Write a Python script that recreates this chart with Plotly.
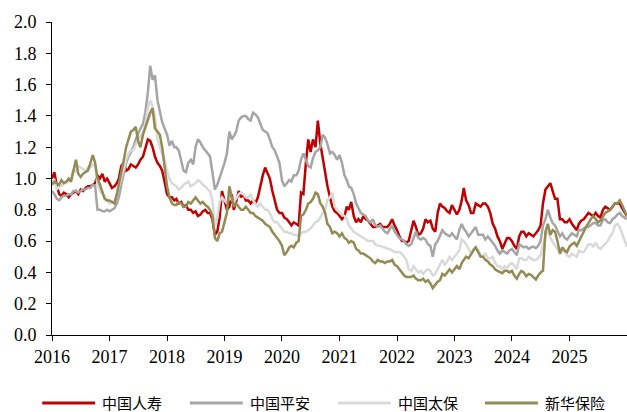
import pandas as pd
import plotly.graph_objects as go

# Twice-monthly observation dates (1st and 16th), plus the last point of 2025
dates = []
for year in range(2016, 2026):
    for month in range(1, 13):
        dates.append(pd.Timestamp(year, month, 1))
        dates.append(pd.Timestamp(year, month, 16))
dates.append(pd.Timestamp(2025, 12, 31))

# 中国人寿 (one row per year)
china_life = [
    1.00, 1.04, 0.95, 0.90, 0.89, 0.91, 0.90, 0.88, 0.90, 0.91, 0.92, 0.90, 0.93, 0.92, 0.94, 0.95, 0.95, 0.96, 0.97, 1.02, 1.00, 1.03, 0.98, 1.00,
    0.97, 0.94, 0.95, 0.97, 1.00, 1.08, 1.10, 1.05, 1.06, 1.09, 1.08, 1.07, 1.09, 1.12, 1.14, 1.20, 1.25, 1.24, 1.20, 1.14, 1.10, 1.08, 1.05, 0.98,
    0.90, 0.88, 0.88, 0.86, 0.87, 0.84, 0.85, 0.82, 0.83, 0.80, 0.80, 0.78, 0.79, 0.76, 0.77, 0.79, 0.80, 0.78, 0.78, 0.74, 0.64, 0.66, 0.75, 0.92,
    0.85, 0.80, 0.82, 0.90, 0.80, 0.85, 0.92, 0.88, 0.90, 0.86, 0.86, 0.84, 0.86, 0.84, 0.88, 0.95, 1.02, 1.07, 1.04, 1.00, 0.92, 0.86, 0.80, 0.78,
    0.78, 0.75, 0.74, 0.72, 0.70, 0.72, 0.71, 0.70, 0.91, 0.90, 1.10, 1.25, 1.17, 1.25, 1.20, 1.37, 1.22, 1.12, 1.05, 0.95, 0.88, 0.82, 0.79, 0.78,
    0.76, 0.74, 0.76, 0.82, 0.80, 0.85, 0.76, 0.72, 0.74, 0.72, 0.76, 0.74, 0.73, 0.71, 0.69, 0.69, 0.70, 0.71, 0.69, 0.69, 0.69, 0.71, 0.74, 0.70,
    0.67, 0.63, 0.60, 0.60, 0.59, 0.60, 0.66, 0.73, 0.69, 0.64, 0.65, 0.68, 0.74, 0.72, 0.73, 0.68, 0.66, 0.78, 0.84, 0.82, 0.81, 0.79, 0.78, 0.83,
    0.80, 0.77, 0.80, 0.86, 0.94, 0.86, 0.83, 0.78, 0.78, 0.84, 0.83, 0.82, 0.84, 0.84, 0.82, 0.78, 0.71, 0.68, 0.63, 0.60, 0.55, 0.59, 0.62, 0.62,
    0.60, 0.57, 0.55, 0.63, 0.66, 0.66, 0.63, 0.65, 0.64, 0.63, 0.65, 0.67, 0.70, 0.84, 0.93, 0.95, 0.97, 0.92, 0.87, 0.87, 0.74, 0.74, 0.72, 0.72,
    0.74, 0.71, 0.69, 0.67, 0.71, 0.73, 0.74, 0.76, 0.78, 0.77, 0.76, 0.78, 0.76, 0.75, 0.80, 0.82, 0.81, 0.80, 0.82, 0.84, 0.84, 0.84, 0.81, 0.78,
    0.76,
]

# 中国平安
ping_an = [
    0.92, 0.90, 0.87, 0.86, 0.88, 0.89, 0.89, 0.90, 0.90, 0.92, 0.92, 0.91, 0.92, 0.93, 0.93, 0.94, 0.94, 0.96, 0.95, 0.80, 0.80, 0.79, 0.79, 0.80,
    0.79, 0.80, 0.81, 0.84, 0.88, 0.96, 1.03, 1.10, 1.14, 1.17, 1.20, 1.25, 1.29, 1.32, 1.35, 1.42, 1.55, 1.72, 1.63, 1.66, 1.50, 1.42, 1.36, 1.32,
    1.28, 1.21, 1.24, 1.20, 1.20, 1.18, 1.12, 1.05, 1.04, 1.10, 1.12, 1.09, 1.20, 1.25, 1.23, 1.20, 1.18, 1.16, 1.14, 1.04, 0.93, 0.96, 1.00, 1.05,
    1.10, 1.16, 1.30, 1.25, 1.27, 1.30, 1.37, 1.39, 1.40, 1.40, 1.38, 1.37, 1.42, 1.41, 1.39, 1.35, 1.31, 1.30, 1.29, 1.25, 1.20, 1.18, 1.14, 1.10,
    0.99, 0.95, 0.97, 0.99, 0.98, 1.02, 1.02, 1.05, 1.12, 1.16, 1.12, 1.08, 1.07, 1.13, 1.17, 1.18, 1.20, 1.28, 1.26, 1.22, 1.16, 1.17, 1.15, 1.12,
    1.15, 1.10, 1.02, 0.99, 0.95, 0.94, 0.90, 0.84, 0.81, 0.78, 0.77, 0.76, 0.73, 0.72, 0.74, 0.70, 0.69, 0.70, 0.68, 0.66, 0.65, 0.68, 0.70, 0.66,
    0.64, 0.62, 0.61, 0.60, 0.58, 0.57, 0.58, 0.62, 0.66, 0.62, 0.61, 0.62, 0.61, 0.58, 0.57, 0.50, 0.58, 0.60, 0.63, 0.67, 0.65, 0.64, 0.63, 0.65,
    0.63, 0.61, 0.67, 0.71, 0.68, 0.66, 0.63, 0.65, 0.67, 0.69, 0.64, 0.64, 0.64, 0.61, 0.63, 0.61, 0.59, 0.57, 0.54, 0.52, 0.54, 0.53, 0.52, 0.54,
    0.55, 0.53, 0.51, 0.58, 0.57, 0.56, 0.565, 0.55, 0.56, 0.565, 0.555, 0.57, 0.60, 0.70, 0.74, 0.80, 0.75, 0.715, 0.70, 0.67, 0.63, 0.65, 0.62, 0.61,
    0.63, 0.65, 0.64, 0.63, 0.67, 0.67, 0.68, 0.69, 0.69, 0.70, 0.715, 0.715, 0.70, 0.70, 0.735, 0.74, 0.72, 0.715, 0.74, 0.75, 0.77, 0.78, 0.76, 0.75,
    0.74,
]

# 中国太保
cpic = [
    0.98, 0.99, 0.93, 0.95, 0.95, 0.97, 0.97, 0.98, 1.00, 1.06, 1.04, 1.08, 1.07, 1.06, 1.05, 1.07, 1.07, 1.09, 1.08, 0.96, 0.92, 0.90, 0.88, 0.86,
    0.84, 0.85, 0.86, 0.90, 0.95, 1.00, 1.06, 1.12, 1.16, 1.18, 1.18, 1.22, 1.25, 1.27, 1.29, 1.35, 1.45, 1.50, 1.46, 1.40, 1.25, 1.20, 1.16, 1.12,
    1.05, 1.00, 0.97, 0.96, 0.95, 0.93, 0.94, 0.96, 0.97, 0.98, 0.95, 0.96, 0.97, 0.99, 0.98, 0.96, 0.95, 0.93, 0.92, 0.86, 0.70, 0.75, 0.85, 0.88,
    0.86, 0.84, 0.88, 0.86, 0.85, 0.87, 0.90, 0.91, 0.90, 0.88, 0.88, 0.90, 0.86, 0.84, 0.82, 0.84, 0.82, 0.80, 0.80, 0.78, 0.74, 0.72, 0.72, 0.70,
    0.68, 0.66, 0.66, 0.65, 0.65, 0.64, 0.64, 0.63, 0.65, 0.66, 0.66, 0.67, 0.68, 0.70, 0.72, 0.73, 0.75, 0.78, 0.80, 0.86, 0.88, 0.91, 0.82, 0.80,
    0.78, 0.77, 0.76, 0.74, 0.70, 0.68, 0.66, 0.65, 0.64, 0.63, 0.62, 0.61, 0.60, 0.60, 0.60, 0.58, 0.57, 0.57, 0.56, 0.56, 0.55, 0.55, 0.54, 0.53,
    0.53, 0.53, 0.52, 0.50, 0.48, 0.42, 0.41, 0.44, 0.42, 0.40, 0.41, 0.39, 0.41, 0.42, 0.41, 0.38, 0.39, 0.42, 0.46, 0.48, 0.45, 0.47, 0.50, 0.48,
    0.50, 0.52, 0.54, 0.61, 0.60, 0.58, 0.55, 0.52, 0.55, 0.55, 0.545, 0.51, 0.50, 0.52, 0.49, 0.49, 0.50, 0.46, 0.44, 0.44, 0.42, 0.44, 0.43, 0.45,
    0.46, 0.44, 0.42, 0.49, 0.49, 0.48, 0.48, 0.50, 0.49, 0.48, 0.48, 0.49, 0.51, 0.58, 0.63, 0.67, 0.62, 0.59, 0.57, 0.55, 0.52, 0.54, 0.53, 0.51,
    0.50, 0.52, 0.51, 0.50, 0.54, 0.53, 0.53, 0.56, 0.58, 0.58, 0.565, 0.59, 0.56, 0.55, 0.565, 0.58, 0.60, 0.63, 0.65, 0.70, 0.71, 0.69, 0.65, 0.60,
    0.565,
]

# 新华保险
new_china_life = [
    0.96, 0.98, 0.97, 0.96, 0.99, 0.97, 0.98, 1.00, 0.98, 1.05, 1.12, 1.03, 1.01, 1.03, 1.04, 1.05, 1.10, 1.15, 1.10, 1.00, 0.96, 0.92, 0.87, 0.86,
    0.86, 0.85, 0.84, 0.90, 0.96, 1.05, 1.12, 1.20, 1.25, 1.30, 1.31, 1.33, 1.24, 1.20, 1.28, 1.33, 1.38, 1.42, 1.45, 1.32, 1.30, 1.28, 1.20, 1.09,
    0.95, 0.88, 0.84, 0.83, 0.83, 0.85, 0.84, 0.82, 0.82, 0.85, 0.84, 0.86, 0.88, 0.86, 0.84, 0.85, 0.83, 0.82, 0.80, 0.76, 0.62, 0.60, 0.65, 0.66,
    0.72, 0.78, 0.95, 0.88, 0.82, 0.84, 0.82, 0.80, 0.80, 0.82, 0.80, 0.78, 0.78, 0.76, 0.75, 0.74, 0.73, 0.71, 0.70, 0.69, 0.66, 0.64, 0.62, 0.60,
    0.57, 0.51, 0.53, 0.56, 0.57, 0.56, 0.59, 0.60, 0.76, 0.77, 0.80, 0.84, 0.85, 0.87, 0.91, 0.90, 0.84, 0.82, 0.78, 0.71, 0.69, 0.65, 0.66, 0.65,
    0.63, 0.65, 0.62, 0.61, 0.59, 0.60, 0.59, 0.55, 0.54, 0.52, 0.52, 0.51, 0.50, 0.49, 0.47, 0.46, 0.48, 0.47, 0.47, 0.46, 0.47, 0.47, 0.48, 0.45,
    0.44, 0.42, 0.40, 0.38, 0.37, 0.37, 0.37, 0.38, 0.36, 0.35, 0.35, 0.36, 0.34, 0.35, 0.33, 0.30, 0.32, 0.34, 0.35, 0.39, 0.38, 0.40, 0.42, 0.40,
    0.42, 0.44, 0.42, 0.46, 0.48, 0.50, 0.49, 0.52, 0.54, 0.56, 0.53, 0.50, 0.50, 0.48, 0.47, 0.45, 0.44, 0.42, 0.41, 0.40, 0.395, 0.41, 0.41, 0.40,
    0.41, 0.38, 0.36, 0.39, 0.41, 0.40, 0.375, 0.39, 0.385, 0.37, 0.355, 0.38, 0.40, 0.41, 0.66, 0.71, 0.64, 0.67, 0.66, 0.60, 0.52, 0.56, 0.54, 0.53,
    0.565, 0.58, 0.59, 0.57, 0.60, 0.63, 0.66, 0.69, 0.72, 0.74, 0.76, 0.74, 0.72, 0.73, 0.76, 0.78, 0.79, 0.80, 0.82, 0.84, 0.84, 0.86, 0.83, 0.80,
    0.76,
]

series_names = ["中国人寿", "中国平安", "中国太保", "新华保险"]
series_values = [china_life, ping_an, cpic, new_china_life]
colors = ["#C00000", "#A5A5A5", "#D9D9D9", "#948A54"]

year_ticks = [pd.Timestamp(f"{y}-01-01") for y in range(2016, 2026)]
year_labels = [str(y) for y in range(2016, 2026)]
y_ticks = [0.0, 0.2, 0.4, 0.6, 0.8, 1.0, 1.2, 1.4, 1.6, 1.8, 2.0]

fig = go.Figure()
for name, vals, col in zip(series_names, series_values, colors):
    fig.add_trace(go.Scatter(
        x=dates, y=vals, name=name, mode="lines",
        line=dict(color=col, width=2.5), showlegend=False,
    ))

# Legend below the axis: a line swatch followed by the series name
legend_x = [-0.017, 0.240, 0.497, 0.753]
swatch_len = 0.092
legend_y = -0.217
for name, col, lx in zip(series_names, colors, legend_x):
    fig.add_shape(type="line", xref="paper", yref="paper",
                  x0=lx, x1=lx + swatch_len, y0=legend_y, y1=legend_y,
                  line=dict(color=col, width=3))
    fig.add_annotation(xref="paper", yref="paper", x=lx + swatch_len + 0.009,
                       y=legend_y, text=name, showarrow=False,
                       xanchor="left", yanchor="middle",
                       font=dict(family="Noto Sans CJK SC", size=15, color="#000000"))

axis_font = dict(family="Liberation Serif", size=18, color="#000000")
fig.update_xaxes(
    range=[pd.Timestamp("2016-01-01"), pd.Timestamp("2026-01-01")],
    tickvals=year_ticks, ticktext=year_labels,
    showgrid=False, zeroline=False,
    showline=True, linecolor="#000000", linewidth=1,
    ticks="outside", ticklen=5, tickcolor="#000000", tickwidth=1,
    tickfont=axis_font,
)
fig.update_yaxes(
    range=[0, 2.0], tickvals=y_ticks, tickformat=".1f",
    showgrid=False, zeroline=False,
    showline=True, linecolor="#000000", linewidth=1,
    ticks="outside", ticklen=5, tickcolor="#000000", tickwidth=1,
    tickfont=axis_font, ticklabelstandoff=6,
)
fig.update_layout(
    width=627, height=412,
    margin=dict(l=52, r=0, t=22, b=77),
    paper_bgcolor="#FFFFFF", plot_bgcolor="#FFFFFF",
    showlegend=False,
)
fig.write_html("out.html")
